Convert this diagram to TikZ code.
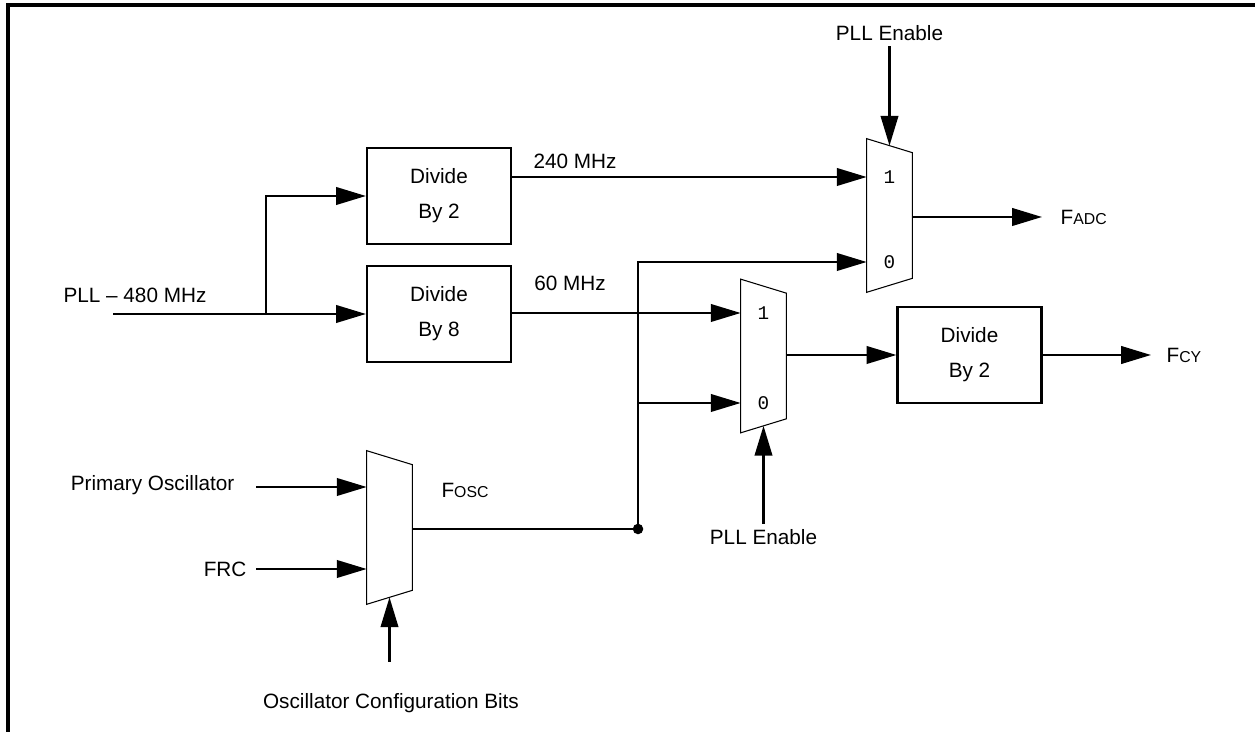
\documentclass[tikz,border=0pt]{standalone}
\usepackage{fontspec}
\setmainfont{Liberation Sans}
\setmonofont{Liberation Mono}
\usepackage{tikz}
\usetikzlibrary{arrows.meta, positioning}

\newcommand{\lblfont}{\fontsize{11.8}{14}\selectfont}
\newcommand{\subtxt}{\fontsize{9}{11}\selectfont}
\newcommand{\divfont}{\fontsize{11.8}{19.9}\selectfont}

\tikzset{
  sig/.style={line width=1.25pt},
  sigarr/.style={sig, -{Triangle[length=17pt, width=10pt]}},
  divbox/.style={draw, line width=1.25pt, minimum width=2.88cm, minimum height=1.92cm, align=center, font=\divfont},
  muxbox/.style={minimum width=0.9cm, minimum height=3.06cm, inner sep=0pt},
  muxlbl/.style={font=\ttfamily\fontsize{11}{13}\selectfont, inner sep=0pt},
  lbl/.style={font=\lblfont, inner sep=3pt}
}

\begin{document}
\begin{tikzpicture}[x=0.02cm, y=-0.02cm]
  \useasboundingbox (0,0) rectangle (1255,732);
  % frame — open at right and bottom
  \draw[line width=1.8pt] (8,745) -- (8,5) -- (1265,5);

  % divider blocks
  \node[divbox] (div2a) at (439,196) {Divide\\By 2};
  \node[divbox] (div8)  at (439,314) {Divide\\By 8};
  \node[divbox] (div2b) at (969.5,355) {Divide\\By 2};

  % muxes (trapezoids drawn on empty nodes)
  \node[muxbox] (muxadc) at (889.5,215.5) {};
  \node[muxbox] (muxcy)  at (763.5,356) {};
  \node[muxbox] (muxosc) at (389.5,527.5) {};
  \foreach \m in {muxadc, muxcy, muxosc}
    \draw[line width=0.6pt] (\m.north west) -- ([yshift=-0.28cm]\m.north east)
      -- ([yshift=0.28cm]\m.south east) -- (\m.south west) -- cycle;

  \node[muxlbl] (adc1) at (889.5,177) {1};
  \node[muxlbl] (adc0) at (889.5,262) {0};
  \node[muxlbl] (cy1)  at (763.5,313) {1};
  \node[muxlbl] (cy0)  at (763.5,403) {0};

  % labels
  \node[lbl] (pll)     at (135,295) {PLL -- 480 MHz};
  \node[lbl] (mhz240)  at (575,161) {240 MHz};
  \node[lbl] (mhz60)   at (570,283) {60 MHz};
  \node[lbl] (pllen1)  at (889.5,33) {PLL Enable};
  \node[lbl] (pllen2)  at (763.5,537) {PLL Enable};
  \node[lbl, anchor=west] (fadc) at (1055,217) {F{\subtxt ADC}};
  \node[lbl, anchor=west] (fcy)  at (1161,355) {F{\subtxt CY}};
  \node[lbl] (fosc)    at (465,490) {F{\subtxt OSC}};
  \node[lbl, anchor=east] (prim) at (240,485) {Primary Oscillator};
  \node[lbl, anchor=east] (frc)  at (252,569) {FRC};
  \node[lbl] (oscbits) at (391,703) {Oscillator Configuration Bits};

  % free ends and taps
  \coordinate (pllin)   at (113,314);
  \coordinate (split)   at (266,314);
  \coordinate (primin)  at (256,487);
  \coordinate (frcin)   at (256,569);
  \coordinate (oscsel)  at (389.5,662);
  \coordinate (fosctap) at (638,529);

  % PLL path
  \draw[sig] (pllin) -- (split);
  \draw[sigarr] (split) -- (div8.west);
  \draw[sigarr] (split) |- (div2a.west);
  \draw[sigarr] (div2a.east |- adc1) -- (muxadc.west |- adc1);
  \draw[sigarr] (div8.east |- cy1) -- (muxcy.west |- cy1);
  \draw[sigarr] (muxadc.east |- fadc.west) -- ([xshift=-0.26cm]fadc.west);
  \draw[sigarr] (muxcy.east |- div2b) -- (div2b.west);
  \draw[sigarr] (div2b.east) -- ([xshift=-0.2cm]fcy.west |- div2b.east);

  % oscillator path
  \draw[sigarr] (primin) -- (muxosc.west |- primin);
  \draw[sigarr] (frcin) -- (muxosc.west |- frcin);
  \draw[sig] (muxosc.east |- fosctap) -- (fosctap);
  \fill (fosctap) circle (3pt);
  \draw[sigarr] (fosctap) |- (muxadc.west |- adc0);
  \draw[sigarr] (fosctap |- cy0) -- (muxcy.west |- cy0);

  % select lines
  \draw[sigarr] (pllen1.south) -- ([yshift=-0.14cm]muxadc.north);
  \draw[sigarr] (pllen2.north) -- ([yshift=0.14cm]muxcy.south);
  \draw[sigarr] (oscsel) -- ([yshift=0.14cm]muxosc.south);
\end{tikzpicture}
\end{document}
